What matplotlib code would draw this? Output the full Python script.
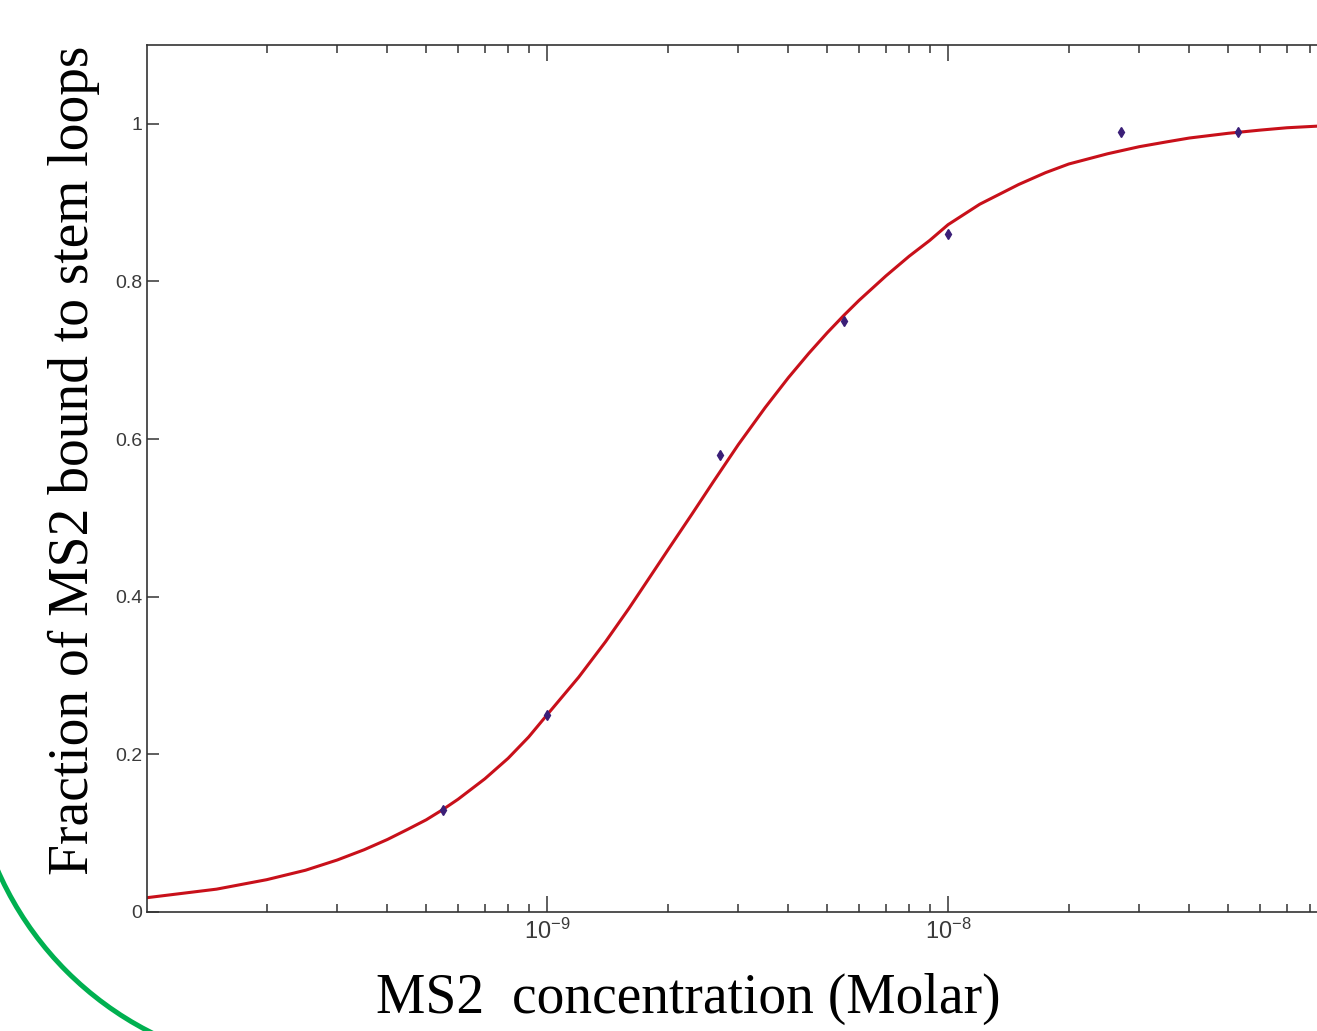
import matplotlib
matplotlib.use('Agg')
import matplotlib.pyplot as plt
from matplotlib import font_manager
import numpy as np
from matplotlib.patches import Arc
from matplotlib.ticker import FixedLocator, LogLocator, NullFormatter

# ---- data ----
data_x = [5.5e-10, 1.0e-9, 2.7e-9, 5.5e-9, 1.0e-8, 2.7e-8, 5.3e-8]
data_y = [0.13, 0.25, 0.58, 0.75, 0.86, 0.99, 0.99]

curve_x = [1e-10, 1.5e-10, 2e-10, 2.5e-10, 3e-10, 3.5e-10, 4e-10, 4.5e-10, 5e-10,
           5.5e-10, 6e-10, 7e-10, 8e-10, 9e-10,
           1e-9, 1.2e-9, 1.4e-9, 1.6e-9, 1.8e-9, 2e-9, 2.3e-9, 2.6e-9, 3e-9,
           3.5e-9, 4e-9, 4.5e-9, 5e-9, 5.5e-9, 6e-9, 7e-9, 8e-9, 9e-9,
           1e-8, 1.2e-8, 1.5e-8, 1.75e-8, 2e-8, 2.5e-8, 3e-8, 3.5e-8, 4e-8,
           5e-8, 6e-8, 7e-8, 8.3e-8]
curve_y = [0.018, 0.029, 0.041, 0.053, 0.066, 0.079, 0.092, 0.105, 0.117,
           0.130, 0.143, 0.169, 0.195, 0.222,
           0.250, 0.298, 0.343, 0.385, 0.424, 0.459, 0.505, 0.546, 0.593,
           0.640, 0.678, 0.709, 0.735, 0.757, 0.776, 0.807, 0.832, 0.852,
           0.872, 0.898, 0.923, 0.938, 0.949, 0.962, 0.971, 0.977, 0.982,
           0.988, 0.992, 0.995, 0.997]

xtick_vals = [1e-9, 1e-8]
xtick_exps = ['-9', '-8']
ytick_vals = [0, 0.2, 0.4, 0.6, 0.8, 1.0]
ytick_labels = ['0', '0.2', '0.4', '0.6', '0.8', '1']

x_label = 'MS2  concentration (Molar)'
y_label = 'Fraction of MS2 bound to stem loops'


def first_font(names):
    for n in names:
        try:
            font_manager.findfont(font_manager.FontProperties(family=n),
                                  fallback_to_default=False)
            return n
        except Exception:
            pass
    return 'DejaVu Sans'


tick_font = first_font(['Liberation Sans Narrow', 'DejaVu Sans Condensed',
                        'Liberation Sans', 'Arial'])
plt.rcParams['mathtext.fontset'] = 'custom'
plt.rcParams['mathtext.rm'] = tick_font
plt.rcParams['mathtext.it'] = tick_font
plt.rcParams['mathtext.bf'] = tick_font
plt.rcParams['mathtext.sf'] = tick_font

W, H = 1317, 1031
fig = plt.figure(figsize=(W / 100, H / 100), dpi=100)
ax = fig.add_axes([147 / W, 119 / H, 1170 / W, 867 / H])
ax.set_xscale('log')

ax.plot(curve_x, curve_y, color='#c8101a', lw=2.2, zorder=2, solid_joinstyle='round')
ax.plot(data_x, data_y, 'd', color='#3b1f78', ms=5, zorder=3)

ax.set_xlim(1.006e-10, 8.32e-8)
ax.set_ylim(0, 1.1)

ax.xaxis.set_major_locator(FixedLocator(xtick_vals))
ax.set_xticklabels([r'$\mathregular{10^{%s}}$' % e for e in xtick_exps])
ax.xaxis.set_minor_locator(LogLocator(base=10, subs=np.arange(2, 10), numticks=20))
ax.xaxis.set_minor_formatter(NullFormatter())
ax.set_yticks(ytick_vals)
ax.set_yticklabels(ytick_labels)
ax.yaxis.set_minor_locator(FixedLocator([]))

axcol = '#333333'
ax.tick_params(which='both', direction='in', top=True, right=False,
               color=axcol, width=1.1, labelcolor='#3a3a3a')
ax.tick_params(axis='x', which='major', length=11.5, pad=5, labelsize=17)
ax.tick_params(axis='x', which='minor', length=5.8)
ax.tick_params(axis='y', which='major', length=8.6, pad=3.5, labelsize=14)
for lab in ax.get_yticklabels() + ax.get_xticklabels():
    lab.set_family(tick_font)

for s in ['left', 'bottom', 'top']:
    ax.spines[s].set_color(axcol)
    ax.spines[s].set_linewidth(1.2)
ax.spines['right'].set_visible(False)

# axis titles
serif = ['Liberation Serif', 'DejaVu Serif']
fig.text(688 / W, (H - 1013) / H, x_label, ha='center', va='baseline',
         fontsize=40, family=serif, color='black')
fig.text(74 / W, (H - 460) / H, y_label, ha='center', va='center', rotation=90,
         fontsize=40, family=serif, color='black')

# decorative green arc (slide frame)
fig.add_artist(Arc((300 / 100, (H - 738) / 100), 6.60, 6.60, theta1=190, theta2=260,
                   transform=fig.dpi_scale_trans, color='#00b050', lw=3.6))

fig.savefig('out.png', dpi=100)
